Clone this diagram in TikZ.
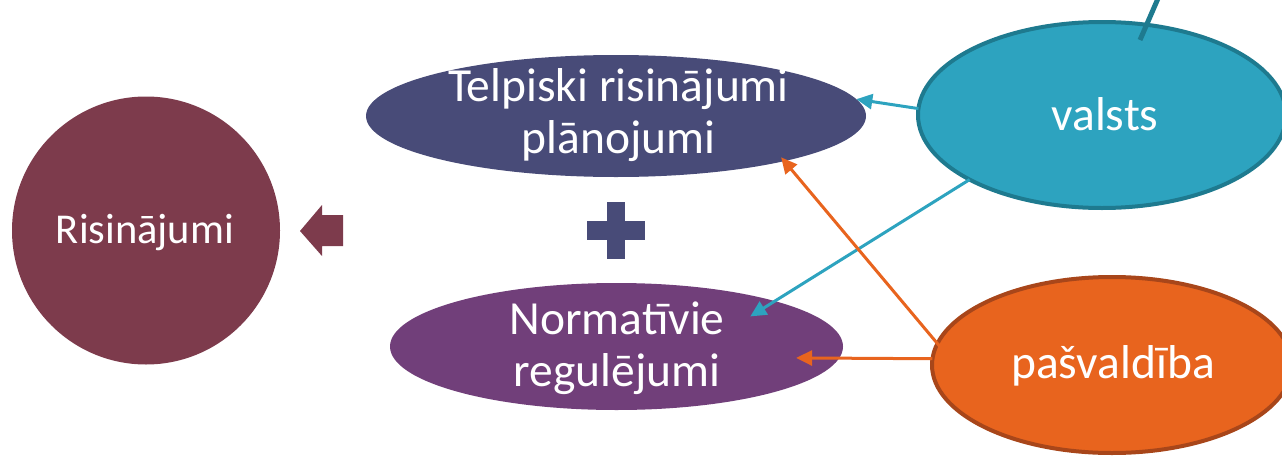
\documentclass[tikz,border=0pt]{standalone}
\usepackage{fontspec}
\setmainfont{Carlito}
\usetikzlibrary{arrows.meta,shapes.geometric,calc}
\definecolor{cRis}{HTML}{7D3B4C}
\definecolor{cTel}{HTML}{484B78}
\definecolor{cNorm}{HTML}{713F7A}
\definecolor{cVal}{HTML}{2DA3BF}
\definecolor{cValB}{HTML}{1E7A8F}
\definecolor{cPas}{HTML}{E8641E}
\definecolor{cPasB}{HTML}{A8461A}
\begin{document}
\begin{tikzpicture}[x=1pt,y=-1pt,
  blob/.style={ellipse, inner sep=0pt, outer sep=0pt},
  lbl/.style={text=white, inner sep=0pt, align=center, font=\fontsize{47.5}{52}\selectfont},
  conn/.style={line width=3pt, -{Triangle[length=16pt,width=15pt]}}]
\useasboundingbox (0,0) rectangle (1282,458);
\clip (0,0) rectangle (1282,458);
% shapes
\node[circle, fill=cRis, minimum size=268pt, inner sep=0pt] (ris) at (146,230.5) {};
\node[blob, fill=cTel, minimum width=500pt, minimum height=122pt] (tel) at (616,116) {};
\node[blob, fill=cNorm, minimum width=453pt, minimum height=127pt] (norm) at (616.5,346.5) {};
\node[blob, fill=cVal, draw=cValB, line width=4pt, minimum width=368pt, minimum height=186pt] (val) at (1102,115) {};
\node[blob, fill=cPas, draw=cPasB, line width=4pt, minimum width=360pt, minimum height=176pt] (pas) at (1112,365) {};
% labels
\node[lbl, font=\fontsize{42.5}{50}\selectfont, anchor=base] (risT) at (145,243) {Risinājumi};
\node[lbl] (telT) at (618.5,115) {Telpiski risinājumi\\plānojumi};
\node[lbl] (normT) at (617,348) {Normatīvie\\regulējumi};
\node[lbl] (valT) at (1105,114) {valsts};
\node[lbl] (pasT) at (1113,366) {pašvaldība};
% block arrow and plus
\fill[cRis] (300,231) -- (322,205) -- (322,215) -- (343,215) -- (343,246) -- (322,246) -- (322,256) -- cycle;
\fill[cTel] (607,202) rectangle (625,259);
\fill[cTel] (587,221) rectangle (645,240);
% top line
\coordinate (vtop) at (1166,-20);
\coordinate (vin) at (1140,40);
\draw[line width=5pt, cValB] (vtop) -- (vin);
% connectors
\draw[conn, cVal] (val.178.5) -- (tel.4.5);
\draw[conn, cVal, shorten >=-29pt] (val.206) -- (norm.16.1);
\draw[conn, cPas, shorten >=-5pt, shorten <=-6pt] (pas.173) -- (tel.345);
\draw[conn, cPas, shorten >=-43pt] (pas.178.7) -- (norm.357.1);
\end{tikzpicture}
\end{document}
